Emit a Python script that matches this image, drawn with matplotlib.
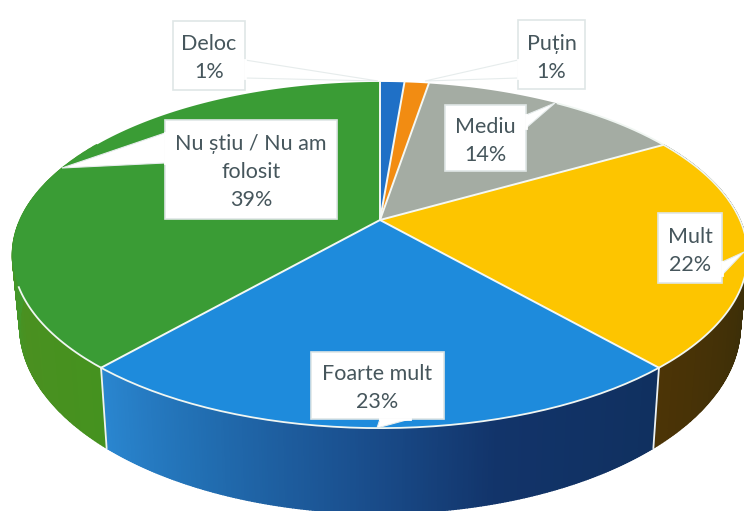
import numpy as np
import matplotlib
matplotlib.use("Agg")
import matplotlib.pyplot as plt
from matplotlib.colors import to_rgb

categories = ["Deloc", "Puțin", "Mediu", "Mult", "Foarte mult", "Nu știu / Nu am\nfolosit"]
values = [1.3, 1.3, 14.1, 21.9, 22.8, 38.6]

top_colors = ["#1f70c6", "#f28c12", "#a4aca3", "#fdc500", "#1e8bdc", "#3a9c35"]

# Callout boxes in pixels: x0, y0, x1, y1, then the tail triangle
boxes = [
    (173, 21, 245, 90, [(245, 60), (378, 81), (245, 78)]),
    (518, 20, 585, 89, [(518, 60), (425, 81), (518, 78)]),
    (445, 105, 526, 171, [(526, 115), (555, 103), (526, 128)]),
    (658, 213, 722, 283, [(722, 262), (744, 252), (722, 275)]),
    (311, 352, 444, 419, [(380, 419), (377, 428), (410, 419)]),
    (165, 120, 337, 219, [(165, 133), (62, 168), (165, 163)]),
]

# Disc projection
CX, CY = 380, 220
RX, RY = 360, 166
PERSP = 0.2024
DEPTH = 68
BOTTOM_SCALE = 0.98

plt.rcParams["font.family"] = ["Lato", "DejaVu Sans"]


def rim(angle):
    """ Top Rim Point, Angle In Degrees Clockwise From The Back Of The Disc """
    rad = np.radians(angle)
    w = 1 + PERSP * np.cos(rad)
    return CX + RX * np.sin(rad) / w, CY - RY * np.cos(rad) / w


def floor(angle):
    """ Same Point On The Bottom Face """
    rad = np.radians(angle)
    w = 1 + PERSP * np.cos(rad)
    x, y = rim(angle)
    return CX + (x - CX) * BOTTOM_SCALE, y + DEPTH / w


def side_strips(ax, a0, a1, stops):
    """ Draw One Side Wall As Narrow Strips So The Shade Can Change Along It """
    edges = np.linspace(a0, a1, 220)
    pos = [s[0] for s in stops]
    rgb = np.array([to_rgb(s[1]) for s in stops])
    for i in range(len(edges) - 1):
        x0, y0 = rim(edges[i])
        x1, y1 = rim(edges[i + 1])
        x2, y2 = floor(edges[i + 1])
        x3, y3 = floor(edges[i])
        mid = (edges[i] + edges[i + 1]) / 2
        col = [np.interp(mid, pos, rgb[:, c]) for c in range(3)]
        ax.fill([x0, x1, x2, x3], [y0, y1, y2, y3], color=col, lw=1.0, zorder=1)


fig = plt.figure(figsize=(7.44, 5.11), dpi=100)
ax = fig.add_axes([0, 0, 1, 1])
ax.set_xlim(0, 744)
ax.set_ylim(511, 0)
ax.axis("off")

cuts = np.concatenate([[0], np.cumsum(values)]) * 3.6

# Side walls, only the three front slices show one
side_strips(ax, cuts[3], cuts[4], [(cuts[3], "#2e2a0e"), (105, "#3a2e08"), (cuts[4], "#4c3406")])
side_strips(ax, cuts[4], cuts[5], [(cuts[4], "#10305f"), (165, "#12346a"), (183, "#1a4f8e"),
                                   (205, "#2270b4"), (cuts[5], "#2a86d0")])
side_strips(ax, cuts[5], 300, [(cuts[5], "#45921f"), (245, "#4a9020"), (270, "#3f9a2e"), (300, "#3f9a2e")])

# Top face
for i, col in enumerate(top_colors):
    ang = np.linspace(cuts[i], cuts[i + 1], 120)
    xs, ys = rim(ang)
    ax.fill(np.r_[CX, xs], np.r_[CY, ys], color=col, zorder=2, lw=0)

# White separators
for a in cuts[:-1]:
    x, y = rim(a)
    ax.plot([CX, x], [CY, y], color="#f4f8f4", lw=1.4, zorder=3, solid_capstyle="round")
for a in (cuts[4], cuts[5]):
    x0, y0 = rim(a)
    x1, y1 = floor(a)
    ax.plot([x0, x1], [y0, y1], color="#eef2f2", lw=1.3, zorder=3)
front = np.linspace(cuts[3] - 25, cuts[5] + 27, 200)
xs, ys = rim(front)
ax.plot(xs, ys, color="#f0f6f2", lw=1.3, zorder=3)

# Callouts
for i, (x0, y0, x1, y1, tail) in enumerate(boxes):
    tx = [p[0] for p in tail]
    ty = [p[1] for p in tail]
    ax.fill([x0, x1, x1, x0], [y0, y0, y1, y1], facecolor="white", edgecolor="#dfe6e6", lw=1.2, zorder=4)
    ax.fill(tx, ty, facecolor="white", edgecolor="#e6ecec", lw=0.8, zorder=4)
    ax.plot([tail[0][0], tail[2][0]], [tail[0][1], tail[2][1]], color="white", lw=2, zorder=5)
    label = "{}\n{}%".format(categories[i], round(values[i]))
    ax.text((x0 + x1) / 2, (y0 + y1) / 2 + 3, label, ha="center", va="center", fontsize=15.5,
            color="#46565c", linespacing=1.5, zorder=6)

fig.savefig("out.png", dpi=100, facecolor="white")
